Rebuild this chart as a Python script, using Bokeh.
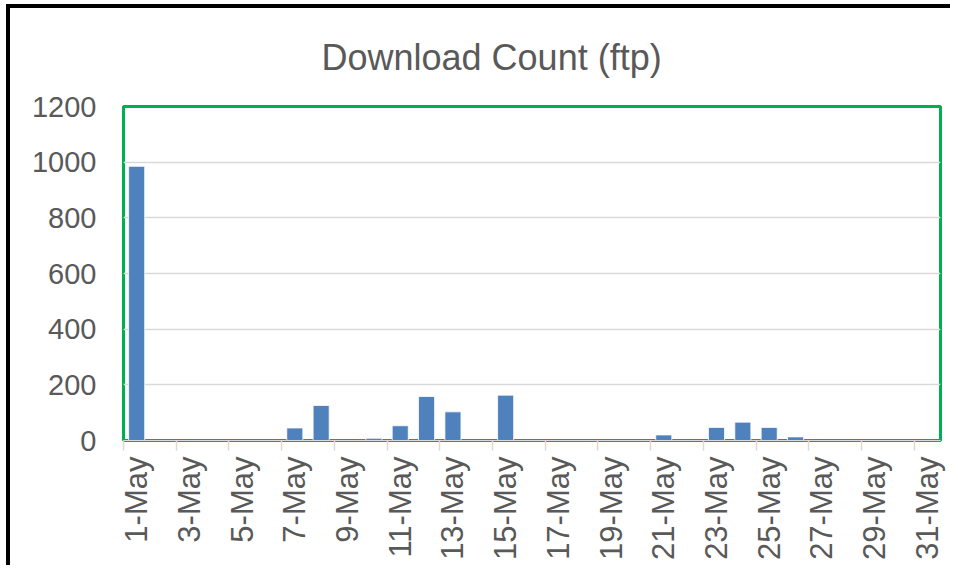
import math
from bokeh.plotting import figure
from bokeh.models import Range1d, FixedTicker, LinearAxis, ColumnDataSource
from bokeh.embed import file_html
from bokeh.resources import INLINE

# ---- data ----
days = list(range(1, 32))
day_labels = [f"{d}-May" for d in days]
downloads = [985, 0, 0, 0, 0, 0, 45, 126, 0, 8,
             53, 158, 103, 0, 163, 0, 0, 0, 0, 0,
             20, 0, 47, 66, 47, 13, 0, 0, 0, 0, 0]
y_ticks = [0, 200, 400, 600, 800, 1000, 1200]
title_text = "Download Count (ftp)"

FONT = "Liberation Sans"
GREY_TXT = "#595959"

src = ColumnDataSource(dict(x=days, y=downloads))

p = figure(frame_width=817, frame_height=334,
           x_range=Range1d(days[0] - 0.5, days[-1] + 0.5),
           y_range=Range1d(y_ticks[0], y_ticks[-1]),
           output_backend="svg", toolbar_location=None,
           x_axis_location=None, y_axis_location="left",
           min_border_left=113, min_border_right=10,
           min_border_top=98, min_border_bottom=125,
           title=title_text)
p.styles = {"border-left": "4px solid black", "border-top": "4px solid black",
            "margin-left": "6px", "margin-top": "4px"}

p.title.align = "left"
p.title.vertical_align = "top"
p.title.text_font = FONT
p.title.text_font_size = "36px"
p.title.text_font_style = "normal"
p.title.text_color = GREY_TXT
p.title.standoff = 54
p.title.offset = 198

p.vbar(x="x", top="y", width=0.61, source=src,
       fill_color="#4F81BD", line_color="white", line_width=0.8)

# y axis
ya = p.yaxis[0]
ya.ticker = FixedTicker(ticks=y_ticks)
ya.axis_line_color = None
ya.major_tick_line_color = None
ya.minor_tick_line_color = None
ya.major_label_text_font = FONT
ya.major_label_text_font_size = "29px"
ya.major_label_text_color = GREY_TXT
ya.major_label_standoff = 21

p.ygrid.ticker = FixedTicker(ticks=y_ticks)
p.ygrid.grid_line_color = "#D9D9D9"
p.ygrid.grid_line_width = 1.5
p.xgrid.grid_line_color = None

# x tick marks between categories, every two days
boundaries = [d - 0.5 for d in days[::2]]
tick_axis = LinearAxis(ticker=FixedTicker(ticks=boundaries))
tick_axis.axis_line_color = "#D9D9D9"
tick_axis.major_tick_line_color = "#D9D9D9"
tick_axis.major_tick_line_width = 1.5
tick_axis.major_tick_out = 10
tick_axis.major_tick_in = 0
tick_axis.minor_tick_line_color = None
tick_axis.major_label_text_font_size = "0px"
tick_axis.major_label_standoff = 0
tick_axis.major_label_overrides = {b: "" for b in boundaries}
p.add_layout(tick_axis, "below")

# x labels on every other day
label_axis = LinearAxis(ticker=FixedTicker(ticks=days[::2]))
label_axis.major_label_overrides = {d: lab for d, lab in zip(days, day_labels)}
label_axis.axis_line_color = None
label_axis.major_tick_line_color = None
label_axis.minor_tick_line_color = None
label_axis.major_label_orientation = math.pi / 2
label_axis.major_label_text_font = FONT
label_axis.major_label_text_font_size = "31px"
label_axis.major_label_text_color = GREY_TXT
label_axis.major_label_standoff = 0
p.add_layout(label_axis, "below")

p.outline_line_color = "#00B050"
p.outline_line_width = 3
p.background_fill_color = "white"
p.border_fill_color = "white"

open("out.html", "w").write(file_html(p, INLINE))
